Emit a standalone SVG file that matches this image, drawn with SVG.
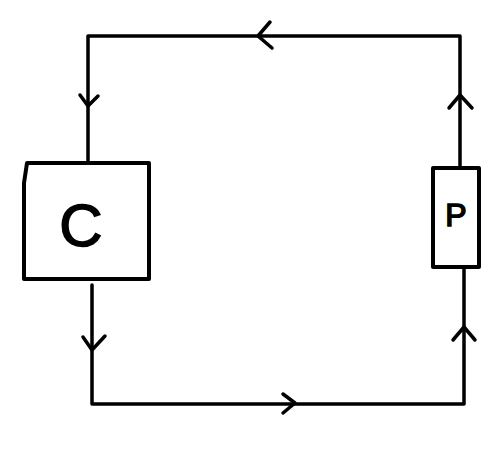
<svg xmlns="http://www.w3.org/2000/svg" width="499" height="459" viewBox="0 0 499 459">
<style>
.l{fill:none;stroke:#000;stroke-width:3.5;stroke-linecap:round;stroke-linejoin:round}
.b{fill:#fff;stroke:#000;stroke-width:4;stroke-linejoin:round}
.t{font-family:"Liberation Sans",Arial,sans-serif;fill:#000;stroke:#000;stroke-width:1.5;text-anchor:middle}
</style>
<rect width="499" height="459" fill="#fff"/>
<g id="connectors">
<path class="l" d="M88,163 L88,36 L460,36 L460,168"/>
<path class="l" d="M92,285 L92,404 L464,404 L464,267"/>
<path class="l" d="M80,95 L88,106 L98,96"/>
<path class="l" d="M270,22 L258,36 L272,48"/>
<path class="l" d="M449,108 L460,95 L472,108"/>
<path class="l" d="M83,337 L92,350 L105,336"/>
<path class="l" d="M283,394 L295,403 L283,413"/>
<path class="l" d="M453,340 L464,327 L475,340"/>
</g>
<g id="node-c">
<path class="b" d="M27,163 L149,163 L149,279 L24,279 L24,183 Z"/>
<text class="t" x="81" y="246" font-size="60">C</text>
</g>
<g id="node-p">
<rect class="b" x="433" y="168" width="46" height="99"/>
<text class="t" x="456" y="226" font-size="32">P</text>
</g>
</svg>
